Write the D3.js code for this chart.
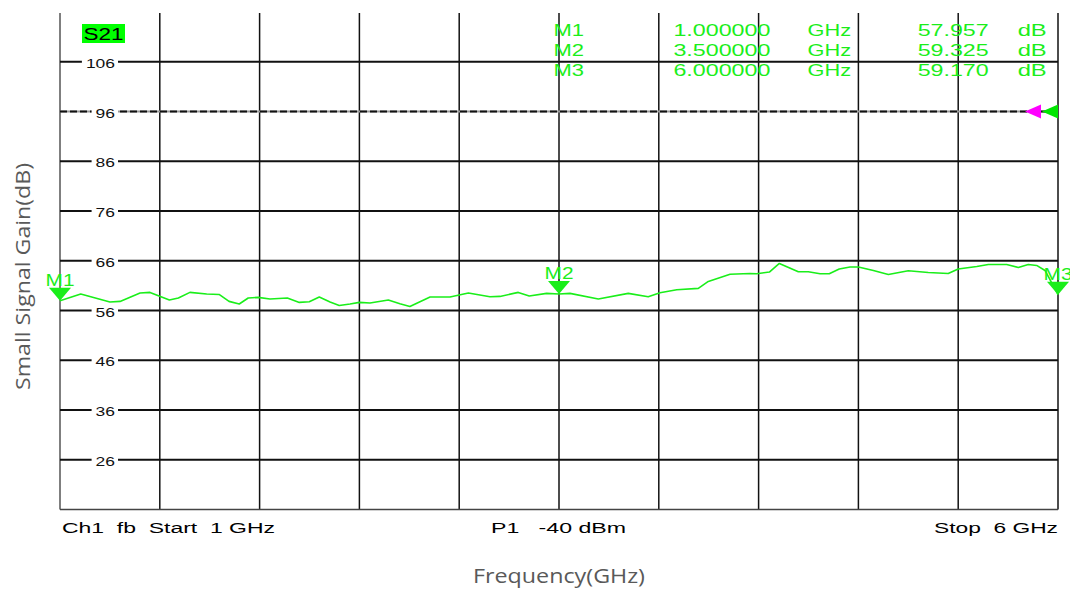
<!DOCTYPE html>
<html>
<head>
<meta charset="utf-8">
<script src="https://cdn.jsdelivr.net/npm/d3@7"></script>
<style>
  html, body { margin: 0; padding: 0; background: #fff; overflow: hidden; }
  svg { display: block; }
</style>
</head>
<body>
<svg id="chart" width="1070" height="589"></svg>
<script>
// ---- data ----
const freqGHz = [1.000, 1.104, 1.250, 1.301, 1.401, 1.451, 1.548, 1.593, 1.651, 1.735,
  1.797, 1.847, 1.898, 1.943, 1.993, 2.052, 2.139, 2.199, 2.249, 2.299,
  2.353, 2.399, 2.453, 2.500, 2.553, 2.645, 2.703, 2.753, 2.854, 2.954,
  3.046, 3.154, 3.204, 3.296, 3.351, 3.438, 3.500, 3.555, 3.697, 3.847,
  3.947, 4.006, 4.090, 4.198, 4.248, 4.357, 4.457, 4.490, 4.554, 4.604,
  4.699, 4.749, 4.808, 4.854, 4.904, 4.958, 5.000, 5.075, 5.150, 5.250,
  5.350, 5.450, 5.500, 5.593, 5.651, 5.743, 5.801, 5.851, 5.893, 5.935, 6.000];
const gainDB = [57.96, 59.31, 57.71, 57.83, 59.51, 59.64, 58.11, 58.51, 59.64, 59.31,
  59.23, 57.83, 57.31, 58.51, 58.63, 58.31, 58.51, 57.63, 57.77, 58.71,
  57.71, 57.02, 57.31, 57.63, 57.51, 58.11, 57.37, 56.82, 58.71, 58.71,
  59.51, 58.77, 58.83, 59.64, 58.91, 59.44, 59.33, 59.44, 58.31, 59.44,
  58.77, 59.57, 60.18, 60.44, 61.84, 63.29, 63.45, 63.39, 63.73, 65.46,
  63.79, 63.79, 63.39, 63.39, 64.33, 64.74, 64.74, 64.05, 63.25, 63.99,
  63.65, 63.45, 64.33, 64.86, 65.26, 65.26, 64.66, 65.26, 65.06, 64.05, 59.17];
const yTickValues = [26, 36, 46, 56, 66, 76, 86, 96, 106];
const xGridValues = [1, 1.5, 2, 2.5, 3, 3.5, 4, 4.5, 5, 5.5, 6];
const markerNames = ["M1", "M2", "M3"];
const markerFreqs = [1.0, 3.5, 6.0];
const markerValues = [57.957, 59.325, 59.170];
const markerFreqText = ["1.000000", "3.500000", "6.000000"];
const markerValueText = ["57.957", "59.325", "59.170"];
const referenceLevel = 96;
const traceName = "S21";
const footerLeft = "Ch1  fb  Start  1 GHz";
const footerMid = "P1   -40 dBm";
const footerRight = "Stop  6 GHz";
const xTitle = "Frequency(GHz)";
const yTitle = "Small Signal Gain(dB)";

// ---- scales ----
const svg = d3.select("#chart");
const x = d3.scaleLinear().domain([1, 6]).range([60, 1058]);
const y = d3.scaleLinear().domain([16, 116]).range([509.5, 12]);
const GREEN = "#1aee1a";
const FONT = "'Liberation Sans', Arial, sans-serif";

// vertical grid
svg.append("g").selectAll("line").data(xGridValues).join("line")
  .attr("x1", d => x(d)).attr("x2", d => x(d))
  .attr("y1", y(116) + 1).attr("y2", y(16))
  .attr("stroke", (d, i) => i === 0 ? "#555" : "#111")
  .attr("stroke-width", 1.5);

// bottom border
svg.append("line").attr("x1", x(1)).attr("x2", x(6))
  .attr("y1", y(16)).attr("y2", y(16))
  .attr("stroke", "#444").attr("stroke-width", 1.5);

// horizontal grid
svg.append("g").selectAll("line").data(yTickValues).join("line")
  .attr("x1", x(1)).attr("x2", x(6))
  .attr("y1", d => y(d)).attr("y2", d => y(d))
  .attr("stroke", d => d === referenceLevel ? "#999" : "#111")
  .attr("stroke-width", 2);

// reference dashed overlay
svg.append("line").attr("x1", x(1)).attr("x2", x(6))
  .attr("y1", y(referenceLevel)).attr("y2", y(referenceLevel))
  .attr("stroke", "#111").attr("stroke-width", 2)
  .attr("stroke-dasharray", "7,3");

// tick labels with white gap
const tickG = svg.append("g");
yTickValues.forEach(v => {
  const s = String(v);
  const w = s.length * 9.7;
  tickG.append("rect")
    .attr("x", 115 - w - 4).attr("y", y(v) - 4)
    .attr("width", w + 7).attr("height", 8).attr("fill", "#fff");
  tickG.append("text")
    .attr("x", 115 - w).attr("y", y(v) + 6)
    .attr("font-family", FONT).attr("font-size", 13.5)
    .attr("textLength", w).attr("lengthAdjust", "spacingAndGlyphs")
    .attr("fill", "#111").text(s);
});

// trace
const line = d3.line().x((d, i) => x(freqGHz[i])).y(d => y(d));
svg.append("path").datum(gainDB)
  .attr("d", line)
  .attr("fill", "none").attr("stroke", GREEN).attr("stroke-width", 1.6)
  .attr("stroke-linejoin", "round");

// markers
markerNames.forEach((m, i) => {
  const mx = x(markerFreqs[i]);
  const my = y(markerValues[i]);
  svg.append("path")
    .attr("d", `M${mx - 11},${my - 13} L${mx + 11},${my - 13} L${mx},${my} Z`)
    .attr("fill", GREEN);
  svg.append("text")
    .attr("x", mx - 14.5).attr("y", my - 15)
    .attr("font-family", FONT).attr("font-size", 16.5)
    .attr("textLength", 29).attr("lengthAdjust", "spacingAndGlyphs")
    .attr("fill", GREEN).text(m);
});

// reference arrows at right
const ry = y(referenceLevel);
svg.append("path")
  .attr("d", `M1025,${ry} L1041,${ry - 7} L1041,${ry + 7} Z`).attr("fill", "#ff00ff");
svg.append("path")
  .attr("d", `M1042,${ry} L1058,${ry - 7} L1058,${ry + 7} Z`).attr("fill", "#00e600");

// S21 badge
svg.append("rect").attr("x", 82).attr("y", 24).attr("width", 43).attr("height", 19)
  .attr("fill", "#00ff00");
svg.append("text").attr("x", 83.5).attr("y", 40)
  .attr("font-family", FONT).attr("font-size", 16)
  .attr("textLength", 40).attr("lengthAdjust", "spacingAndGlyphs")
  .attr("fill", "#000").text(traceName);

// marker table
const rowY = [35.5, 55.5, 75.5];
markerNames.forEach((m, i) => {
  const t = (txt, xl, w) => svg.append("text")
    .attr("x", xl).attr("y", rowY[i])
    .attr("font-family", FONT).attr("font-size", 16.5)
    .attr("textLength", w).attr("lengthAdjust", "spacingAndGlyphs")
    .attr("fill", GREEN).text(txt);
  t(m, 553.5, 30.5);
  t(markerFreqText[i], 673.4, 97);
  t("GHz", 807.6, 43.5);
  t(markerValueText[i], 917.7, 71);
  t("dB", 1017.7, 29);
});

// footer texts
const foot = (txt, xl, w) => svg.append("text")
  .attr("x", xl).attr("y", 533)
  .attr("font-family", FONT).attr("font-size", 15.5)
  .style("white-space", "pre")
  .attr("textLength", w).attr("lengthAdjust", "spacingAndGlyphs")
  .attr("fill", "#000").text(txt);
foot(footerLeft, 62, 213);
foot(footerMid, 491, 135);
foot(footerRight, 934, 124);

// axis titles
svg.append("text")
  .attr("x", 559).attr("y", 583)
  .attr("text-anchor", "middle")
  .attr("font-family", "'Open Sans', sans-serif").attr("font-size", 20)
  .attr("textLength", 172).attr("lengthAdjust", "spacingAndGlyphs")
  .attr("fill", "#595959").text(xTitle);
svg.append("text")
  .attr("transform", "translate(30,276.5) rotate(-90)")
  .attr("text-anchor", "middle")
  .attr("font-family", "'Open Sans', sans-serif").attr("font-size", 19.5)
  .attr("textLength", 227).attr("lengthAdjust", "spacingAndGlyphs")
  .attr("fill", "#595959").text(yTitle);
</script>
</body>
</html>
